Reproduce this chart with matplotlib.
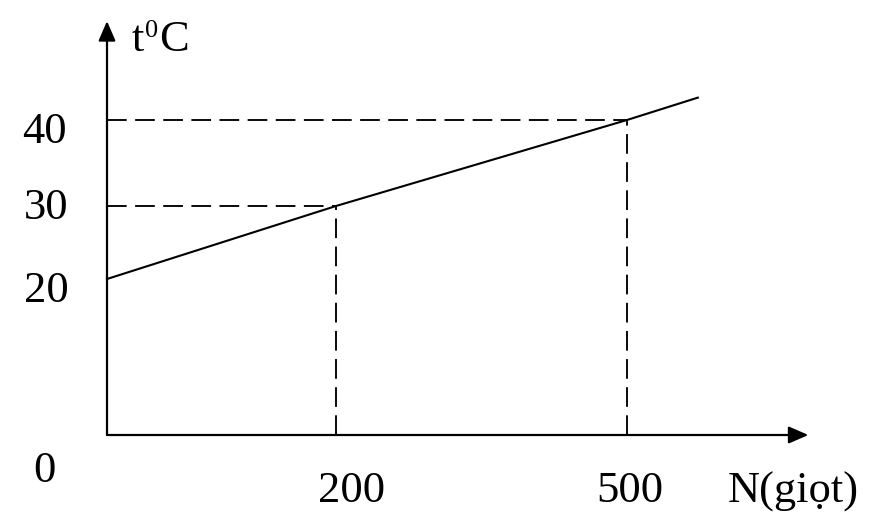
import numpy as np
import matplotlib
matplotlib.use("Agg")
import matplotlib.pyplot as plt

plt.rcParams['font.family'] = ['Liberation Serif', 'DejaVu Serif']

# data
n_line = [0, 200, 500, 573]          # N (drops)
t_line = [20, 30, 40, 42.6]          # temperature
n_marks = [200, 500]
t_marks = [30, 40]
y_ticks = [40, 30, 20, 0]
x_ticks = [200, 500]
n_axis_end = 687
t_axis_end = 51.5

# the sketch is not drawn to scale: piecewise mapping of values to pixels
x_knots = [-1000, 0, 200, 500, 3000]
x_pix = [107 - 1145, 107, 336, 627, 627 + 2425]
y_knots = [-1000, 0, 20, 30, 40, 1000]
y_pix = [77 - 7800, 77, 233, 306, 392, 392 + 8256]


def fx(v):
    return np.interp(v, x_knots, x_pix)


def fx_inv(p):
    return np.interp(p, x_pix, x_knots)


def fy(v):
    return np.interp(v, y_knots, y_pix)


def fy_inv(p):
    return np.interp(p, y_pix, y_knots)


fig = plt.figure(figsize=(8.71, 5.12), dpi=100)
ax = fig.add_axes([0, 0, 1, 1])
ax.set_xscale('function', functions=(fx, fx_inv))
ax.set_yscale('function', functions=(fy, fy_inv))
ax.set_xlim(fx_inv(0), fx_inv(871))
ax.set_ylim(fy_inv(0), fy_inv(512))
ax.axis('off')

# axes with arrows
arrow = dict(arrowstyle='-|>,head_length=0.6,head_width=0.26', lw=1.6,
             color='black', mutation_scale=20, shrinkA=0, shrinkB=0)
ax.annotate('', xy=(n_axis_end, 0), xytext=(0, 0), arrowprops=arrow)
ax.annotate('', xy=(0, t_axis_end), xytext=(0, 0), arrowprops=arrow)

# the graph
ax.plot(n_line, t_line, color='black', lw=1.5)

# dashed guides
dash = (0, (10.5, 4.5))
for n, t in zip(n_marks, t_marks):
    ax.plot([0, n], [t, t], color='black', lw=1.35, ls=dash)
    ax.plot([n, n], [0, t], color='black', lw=1.35, ls=dash)

fs = 32
y_off = {40: (-45, -8.5), 30: (-44, -1.5), 20: (-44, -9), 0: (-45, -26)}
for t in y_ticks:
    ax.annotate(str(t), xy=(0, t), xytext=y_off[t], textcoords='offset points',
                ha='center', va='center', fontsize=fs)

x_off = {200: 11.5, 500: 2}
for n in x_ticks:
    ax.annotate(str(n), xy=(n, 0), xytext=(x_off[n], -40), textcoords='offset points',
                ha='center', va='center', fontsize=fs)

ax.annotate('N(giọt)', xy=(n_axis_end, 0), xytext=(-11, -41), textcoords='offset points',
            ha='center', va='center', fontsize=32)

# t⁰C with a small raised zero
lab_t = ax.annotate('t', xy=(0, t_axis_end), xytext=(18, -21.6), textcoords='offset points',
                    ha='left', va='baseline', fontsize=fs)
lab_0 = ax.annotate('0', xy=(1, t_axis_end), xycoords=(lab_t, 'data'), xytext=(0.5, -11.5),
                    textcoords='offset points', ha='left', va='baseline', fontsize=19)
ax.annotate('C', xy=(1, t_axis_end), xycoords=(lab_0, 'data'), xytext=(0.5, -21.6),
            textcoords='offset points', ha='left', va='baseline', fontsize=fs)

fig.savefig('out.png', dpi=100)
